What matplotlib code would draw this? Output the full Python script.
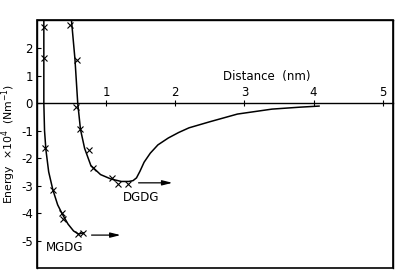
import matplotlib
matplotlib.use("Agg")
import matplotlib.pyplot as plt
from matplotlib.patches import Rectangle

plt.rcParams['font.family'] = ['DejaVu Sans']
plt.rcParams['axes.unicode_minus'] = False

# MGDG curve and data points
mgdg_x = [0.10, 0.10, 0.10, 0.11, 0.13, 0.17, 0.23, 0.30, 0.37, 0.45, 0.53, 0.60, 0.67]
mgdg_y = [3.0, 1.5, 0.0, -1.0, -1.7, -2.5, -3.15, -3.7, -4.05, -4.4, -4.65, -4.76, -4.72]
mgdg_px = [0.10, 0.10, 0.12, 0.23, 0.36, 0.37, 0.60, 0.67]
mgdg_py = [2.75, 1.64, -1.65, -3.15, -4.0, -4.2, -4.75, -4.72]

# DGDG curve and data points
dgdg_x = [0.50, 0.55, 0.59, 0.63, 0.69, 0.78, 0.92, 1.07, 1.22, 1.33, 1.39, 1.44,
          1.49, 1.55, 1.64, 1.75, 1.90, 2.05, 2.20, 2.50, 2.90, 3.40, 3.80, 4.08]
dgdg_y = [3.0, 1.6, 0.0, -0.96, -1.65, -2.27, -2.6, -2.76, -2.85, -2.85, -2.82, -2.72,
          -2.48, -2.15, -1.82, -1.52, -1.27, -1.07, -0.9, -0.68, -0.4, -0.22, -0.15, -0.11]
dgdg_px = [0.475, 0.58, 0.56, 0.63, 0.75, 0.81, 1.08, 1.17, 1.31]
dgdg_py = [2.85, 1.58, -0.16, -0.96, -1.69, -2.35, -2.71, -2.93, -2.93]

# arrows (start x, end x, y)
mgdg_arrow = (0.75, 1.25, -4.8)
dgdg_arrow = (1.43, 2.0, -2.9)

x_ticks = [1, 2, 3, 4, 5]
y_ticks = [-5, -4, -3, -2, -1, 0, 1, 2]

fig = plt.figure(figsize=(3.97, 2.70), dpi=100)
ax = fig.add_axes([0.093, 0.007, 0.897, 0.919])
ax.set_xlim(0, 5.15)
ax.set_ylim(-6.0, 3.02)

lw = 1.1
ax.plot(mgdg_x, mgdg_y, color='black', lw=lw)
ax.plot(dgdg_x, dgdg_y, color='black', lw=lw)
ax.plot(mgdg_px, mgdg_py, 'x', color='black', ms=4, mew=0.8)
ax.plot(dgdg_px, dgdg_py, 'x', color='black', ms=4, mew=0.8)

for (x0, x1, y) in [mgdg_arrow, dgdg_arrow]:
    ax.annotate('', xy=(x1, y), xytext=(x0, y),
                arrowprops=dict(arrowstyle='-|>,head_length=0.6,head_width=0.15',
                                color='black', lw=0.9))

# box frame
for s in ['top', 'right', 'left']:
    ax.spines[s].set_linewidth(1.0)
ax.spines['bottom'].set_position(('data', 0))
ax.spines['bottom'].set_linewidth(1.0)
ax.add_patch(Rectangle((0, 0), 1, 1, transform=ax.transAxes, fill=False,
                       lw=1.2, edgecolor='black', clip_on=False))

ax.set_xticks(x_ticks)
ax.set_xticklabels([str(t) for t in x_ticks])
ax.tick_params(axis='x', direction='inout', length=5, width=0.8, pad=-15,
               labelsize=8.5)
ax.set_yticks(y_ticks)
ax.set_yticklabels([str(t) for t in y_ticks])
ax.tick_params(axis='y', direction='in', length=3, width=0.8, pad=3, labelsize=8.5)

ax.text(2.69, 0.98, 'Distance  (nm)', fontsize=8.5, ha='left', va='center')
ax.text(0.13, -5.24, 'MGDG', fontsize=8.5, ha='left', va='center')
ax.text(1.25, -3.42, 'DGDG', fontsize=8.5, ha='left', va='center')

ax.set_ylabel('Energy  $\\times$10$^{4}$  (Nm$^{-1}$)', fontsize=7.8)
ax.yaxis.set_label_coords(-0.052, 0.50)

fig.savefig('out.png', dpi=100)
